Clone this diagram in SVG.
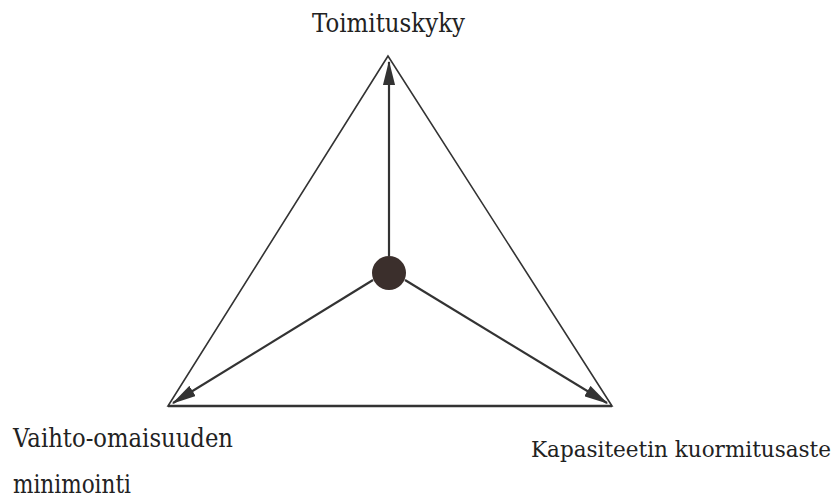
<svg xmlns="http://www.w3.org/2000/svg" width="840" height="500" viewBox="0 0 840 500">
<style>
.lbl{font-family:'DejaVu Serif',serif;font-size:26px;fill:#222}
.edge{stroke:#333;stroke-width:1.6;fill:none}
.arr{stroke:#333;stroke-width:2.2;fill:none;marker-end:url(#ah)}
</style>
<defs>
<marker id="ah" viewBox="0 0 20 10" refX="19" refY="5" markerWidth="11" markerHeight="5.5" orient="auto" markerUnits="strokeWidth">
<path d="M0,0 L20,5 L0,10 z" fill="#333"/>
</marker>
</defs>
<rect width="840" height="500" fill="#fff"/>
<g id="triangle">
<path class="edge" d="M388,56 L168,406 L612,406 Z"/>
<line x1="168" y1="406" x2="612" y2="406" stroke="#333" stroke-width="2.4"/>
</g>
<g id="connectors">
<line class="arr" x1="389" y1="256" x2="389" y2="62"/>
<line class="arr" x1="373" y1="280" x2="173" y2="403"/>
<line class="arr" x1="405" y1="280" x2="607" y2="403"/>
</g>
<g id="center">
<circle cx="389" cy="273" r="17" fill="#3b2f2c"/>
</g>
<g id="top">
<text class="lbl" x="312" y="32" textLength="153" lengthAdjust="spacingAndGlyphs">Toimituskyky</text>
</g>
<g id="left">
<text class="lbl" x="13" y="447" textLength="220" lengthAdjust="spacingAndGlyphs">Vaihto-omaisuuden</text>
<text class="lbl" x="13" y="493" textLength="118" lengthAdjust="spacingAndGlyphs">minimointi</text>
</g>
<g id="right">
<text class="lbl" style="font-size:22px" x="531" y="457" textLength="300" lengthAdjust="spacingAndGlyphs">Kapasiteetin kuormitusaste</text>
</g>
</svg>
